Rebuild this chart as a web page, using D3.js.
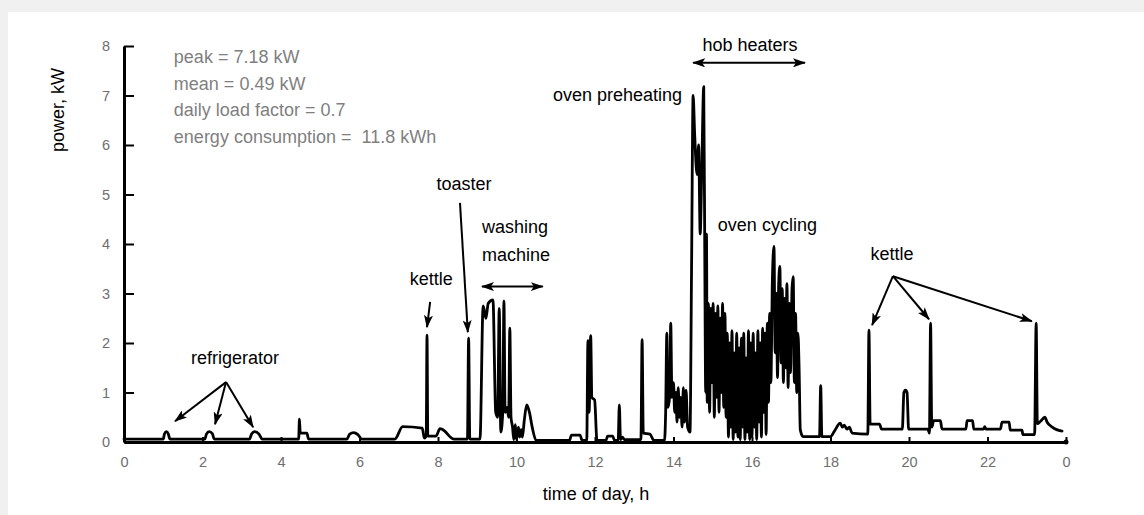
<!DOCTYPE html>
<html><head><meta charset="utf-8">
<script src="https://cdn.jsdelivr.net/npm/d3@7"></script>
<style>
html,body{margin:0;padding:0;background:#f0f0f0;}
svg{display:block;font-family:"Liberation Sans",Arial,sans-serif;}
</style></head><body>
<svg id="chart" width="1144" height="515"></svg>
<script>
// ---- data: household load profile, [hour of day, power kW] ----
const nightSeg = [[0,0.06],[1.0,0.06],[1.03,0.16],[1.08,0.21],[1.13,0.16],[1.17,0.06],
  [2.06,0.06],[2.1,0.16],[2.17,0.21],[2.25,0.17],[2.3,0.06],
  [3.2,0.06],[3.25,0.16],[3.33,0.21],[3.44,0.16],[3.52,0.06],
  [4.45,0.06],[4.47,0.46],[4.49,0.18],[4.66,0.18],[4.7,0.06],
  [5.68,0.06],[5.75,0.16],[5.85,0.19],[5.96,0.15],[6.06,0.06],[6.9,0.06]];
const morningSeg = [[7.1,0.31],[7.6,0.28],[7.65,0.08],[7.7,0.12],[7.72,2.16],[7.74,0.12],[7.95,0.12],
  [8.05,0.27],[8.12,0.25],[8.4,0.06],[8.75,0.06],[8.78,2.1],[8.81,0.06],[9.07,0.06]];
const washingSeg = [[9.15,2.75],[9.22,2.5],[9.28,2.8],[9.4,2.87],[9.47,0.6],[9.52,0.5],[9.56,2.7],[9.6,0.2],
  [9.65,0.6],[9.68,2.85],[9.71,0.6],[9.76,0.7],[9.8,0.5],[9.83,2.3],[9.86,0.5],[9.9,0.3],[9.93,0.05],
  [9.97,0.35],[10.0,0.05],[10.05,0.3],[10.08,0.1],[10.12,0.25],[10.15,0.1],[10.2,0.45],[10.26,0.75],
  [10.33,0.6],[10.4,0.3],[10.5,0.03]];
const middaySeg = [[11.35,0.03],[11.4,0.14],[11.62,0.14],[11.67,0.03],[11.79,0.03],[11.82,2.05],[11.85,0.6],
  [11.89,2.15],[11.92,0.9],[11.99,0.85],[12.05,0.03],[12.28,0.03],[12.32,0.12],[12.45,0.12],[12.5,0.03],
  [12.59,0.03],[12.62,0.75],[12.65,0.05],[12.7,0.1],[12.75,0.05],[13.17,0.05],[13.2,2.07],[13.23,0.18],
  [13.4,0.16],[13.5,0.03],[13.77,0.03],[13.8,0.6],[13.83,2.2],[13.86,0.7],[13.9,0.9],[13.93,2.4],[13.96,0.9],
  [14.0,1.2],[14.03,0.6],[14.06,1.0],[14.09,0.4],[14.12,1.1],[14.15,0.5],[14.18,0.9],[14.22,0.3],[14.25,1.1],
  [14.28,0.4],[14.32,1.05],[14.36,0.3],[14.42,0.2]];
const ovenSeg = [[14.46,3.5],[14.5,7.0],[14.54,6.2],[14.6,5.4],[14.64,6.0],[14.68,4.2],[14.72,5.5],[14.77,7.18],
  [14.8,3.3],[14.82,1.0],[14.84,4.2],[14.86,0.8],[14.89,2.8],[14.92,0.6],[14.95,2.7],[14.98,1.2],[15.01,2.8],
  [15.04,0.5],[15.07,2.6],[15.10,0.9],[15.13,2.75],[15.16,0.6],[15.19,2.5],[15.22,1.0],[15.25,2.8],[15.28,0.7],
  [15.31,2.6],[15.34,0.5],[15.37,2.2],[15.40,0.1],[15.43,2.0],[15.46,0.3],[15.49,2.25],[15.52,0.05],[15.55,1.8],
  [15.58,0.2],[15.61,2.2],[15.64,0.1],[15.67,1.9],[15.70,0.05],[15.73,2.1],[15.76,0.3],[15.79,2.2],[15.82,0.05],
  [15.85,1.7],[15.88,0.2],[15.91,2.25],[15.94,0.05],[15.97,2.0],[16.00,0.1],[16.03,2.2],[16.06,0.3],[16.09,1.8],
  [16.12,0.05],[16.15,2.25],[16.18,0.4],[16.21,2.0],[16.24,0.1],[16.27,2.3],[16.30,0.6],[16.33,2.2],[16.36,0.15],
  [16.39,2.4],[16.42,0.8],[16.45,2.6],[16.48,1.2],[16.52,3.3],[16.56,3.95],[16.59,1.8],[16.62,3.0],[16.65,1.3],
  [16.68,3.2],[16.71,3.55],[16.74,1.6],[16.77,3.1],[16.80,1.2],[16.83,2.9],[16.86,1.5],[16.89,3.2],[16.92,1.1],
  [16.95,2.8],[16.98,1.4],[17.02,3.1],[17.05,3.34],[17.08,1.2],[17.11,2.6],[17.14,1.0],[17.17,2.2],[17.20,1.5]];
const eveningSeg = [[17.23,0.25],[17.3,0.11],[17.72,0.11],[17.75,1.14],[17.78,0.11],[18.0,0.11],[18.1,0.22],
  [18.25,0.38],[18.3,0.3],[18.35,0.34],[18.42,0.26],[18.48,0.3],[18.55,0.18],[18.95,0.16],[18.98,2.26],
  [19.01,0.36],[19.25,0.36],[19.3,0.26],[19.83,0.26],[19.87,1.0],[19.91,1.05],[19.95,1.0],[19.99,0.26],
  [20.48,0.26],[20.52,0.18],[20.55,2.4],[20.58,0.3],[20.63,0.43],[20.8,0.43],[20.84,0.26],[21.45,0.26],
  [21.48,0.43],[21.62,0.43],[21.65,0.26],[21.9,0.26],[21.93,0.31],[21.96,0.26],[22.33,0.26],[22.37,0.4],
  [22.55,0.4],[22.58,0.24],[22.88,0.24],[22.9,0.15],[23.2,0.15],[23.24,2.4],[23.27,0.37],[23.35,0.42],
  [23.46,0.5],[23.52,0.4],[23.65,0.3],[23.76,0.25],[23.9,0.22]];

const xTicks = [0,2,4,6,8,10,12,14,16,18,20,22,24];
const xTickLabels = ["0","2","4","6","8","10","12","14","16","18","20","22","0"];
const yTicks = [0,1,2,3,4,5,6,7,8];

const statLines = ["peak = 7.18 kW","mean = 0.49 kW","daily load factor = 0.7","energy consumption =\u00a0 11.8 kWh"];

// annotation labels: [text, hour, kW, anchor]
const labels = [
  ["refrigerator",2.83,1.566,"middle"],
  ["kettle",7.83,3.17,"middle"],
  ["toaster",8.66,5.09,"middle"],
  ["washing",9.12,4.22,"start"],
  ["machine",9.12,3.66,"start"],
  ["oven preheating",14.22,6.89,"end"],
  ["hob heaters",15.95,7.89,"middle"],
  ["oven cycling",15.13,4.26,"start"],
  ["kettle",19.57,3.68,"middle"]
];
// arrows: [fromHour, fromKW, toHour, toKW, doubleHeaded]
const arrows = [
  [2.6,1.21,1.3,0.42,0],[2.6,1.21,2.32,0.36,0],[2.6,1.21,3.29,0.30,0],
  [7.8,2.83,7.72,2.32,0],
  [8.56,4.83,8.76,2.22,0],
  [9.12,3.14,10.67,3.14,1],
  [14.5,7.66,17.35,7.66,1],
  [19.59,3.35,19.06,2.36,0],[19.59,3.35,20.51,2.48,0],[19.59,3.35,23.13,2.44,0]
];

// ---- drawing ----
const svg = d3.select("#chart");
svg.append("rect").attr("x",0).attr("y",0).attr("width",1144).attr("height",515).attr("fill","#f0f0f0");
svg.append("rect").attr("x",8).attr("y",12).attr("width",1136).attr("height",503).attr("fill","#ffffff");

const x = d3.scaleLinear().domain([0,24]).range([124,1066]);
const y = d3.scaleLinear().domain([0,8]).range([442,46]);

const defs = svg.append("defs");
defs.append("marker").attr("id","ah").attr("viewBox","0 0 13 9").attr("refX",12).attr("refY",4.5)
  .attr("markerWidth",13).attr("markerHeight",9).attr("markerUnits","userSpaceOnUse")
  .attr("orient","auto-start-reverse")
  .append("path").attr("d","M0,0 L13,4.5 L0,9 L3,4.5 Z").attr("fill","#000");

// trace
const profile = [].concat(nightSeg, morningSeg, washingSeg, middaySeg, ovenSeg, eveningSeg);
const line = d3.line().x(d=>x(d[0])).y(d=>y(d[1])).curve(d3.curveMonotoneX);
svg.append("path").datum(profile).attr("d",line).attr("fill","none").attr("stroke","#000")
  .attr("stroke-width",2.8).attr("stroke-linejoin","round").attr("stroke-linecap","round");

// axes
const xAxis = d3.axisBottom(x).tickValues(xTicks).tickFormat((d,i)=>xTickLabels[i])
  .tickSize(-5).tickSizeOuter(0).tickPadding(15);
const gx = svg.append("g").attr("transform","translate(0,442)").call(xAxis);
const yAxis = d3.axisLeft(y).tickValues(yTicks).tickFormat(d3.format("d"))
  .tickSize(-10).tickSizeOuter(0).tickPadding(14);
const gy = svg.append("g").attr("transform","translate(124,0)").call(yAxis);
[gx,gy].forEach(g=>{
  g.select(".domain").attr("stroke","#000").attr("stroke-width",3);
  g.selectAll(".tick line").attr("stroke","#000").attr("stroke-width",2);
  g.selectAll(".tick text").attr("fill","#6e6e6e").attr("font-size","14.5px")
    .attr("font-family","'Liberation Sans',Arial,sans-serif");
});
svg.append("circle").attr("cx",x(24)).attr("cy",y(0)).attr("r",2.5).attr("fill","#000");

// axis titles
svg.append("text").attr("x",596).attr("y",500).attr("text-anchor","middle")
  .attr("font-size","18px").attr("fill","#000").text("time of day, h");
svg.append("text").attr("transform","translate(64,110) rotate(-90)").attr("text-anchor","middle")
  .attr("font-size","18px").attr("fill","#000").text("power, kW");

// stats
svg.append("g").selectAll("text").data(statLines).join("text")
  .attr("x",x(1.27)).attr("y",(d,i)=>63+i*26.5)
  .attr("font-size","18px").attr("fill","#7f7f7f").text(d=>d);

// annotation arrows
svg.append("g").selectAll("line").data(arrows).join("line")
  .attr("x1",d=>x(d[0])).attr("y1",d=>y(d[1])).attr("x2",d=>x(d[2])).attr("y2",d=>y(d[3]))
  .attr("stroke","#000").attr("stroke-width",2)
  .attr("marker-end","url(#ah)").attr("marker-start",d=>d[4]?"url(#ah)":null);

// annotation labels
svg.append("g").selectAll("text").data(labels).join("text")
  .attr("x",d=>x(d[1])).attr("y",d=>y(d[2])).attr("text-anchor",d=>d[3])
  .attr("font-size","18px").attr("fill","#000").text(d=>d[0]);
</script>
</body></html>
